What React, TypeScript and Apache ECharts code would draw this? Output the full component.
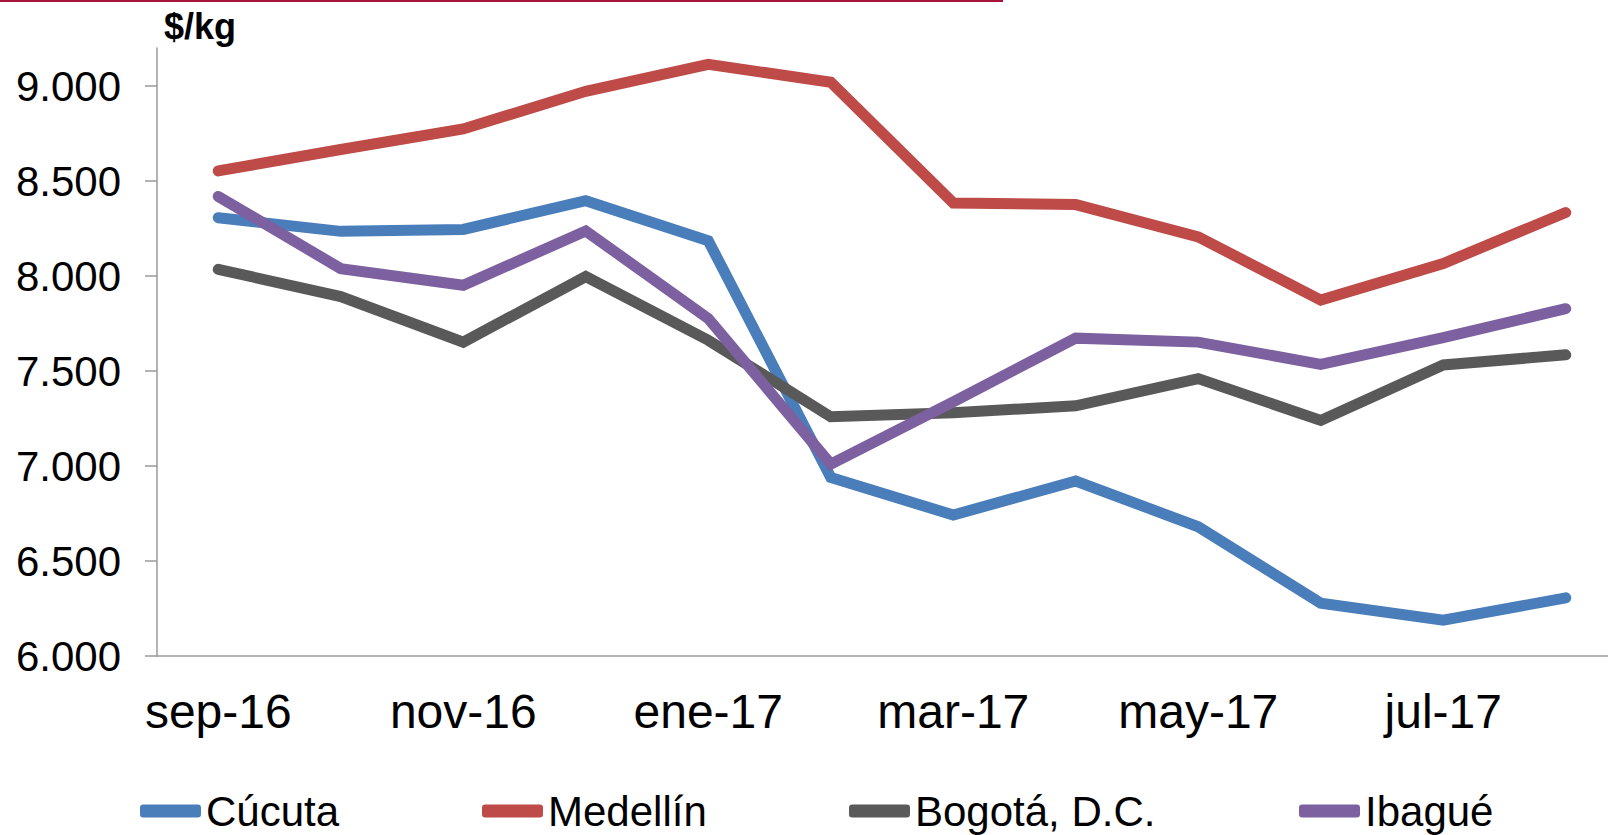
import React, { useEffect, useRef } from "react";
import * as echarts from "echarts";

const categories = ["sep-16", "oct-16", "nov-16", "dic-16", "ene-17", "feb-17", "mar-17", "abr-17", "may-17", "jun-17", "jul-17", "ago-17"];
const cucuta = [8307, 8235, 8245, 8396, 8186, 6940, 6742, 6921, 6680, 6278, 6188, 6306];
const medellin = [8553, 8666, 8774, 8972, 9114, 9020, 8384, 8376, 8206, 7873, 8066, 8334];
const bogota = [8035, 7892, 7652, 7997, 7662, 7259, 7280, 7317, 7460, 7240, 7532, 7585];
const ibague = [8419, 8039, 7951, 8237, 7776, 7010, 7338, 7673, 7652, 7535, 7676, 7828];
const yTicks = [6000, 6500, 7000, 7500, 8000, 8500, 9000];

const seriesNames = ["Cúcuta", "Medellín", "Bogotá, D.C.", "Ibagué"];
const seriesData = [cucuta, medellin, bogota, ibague];
const colors = ["#4a7ebb", "#be4b48", "#595959", "#7d60a0"];
const legendLefts = [140, 482, 849, 1299];

const FONT = "'Liberation Sans', Arial, sans-serif";

export default function App() {
  const ref = useRef<HTMLDivElement>(null);
  useEffect(() => {
    if (!ref.current) return;
    const chart = echarts.init(ref.current, null, { renderer: "svg" });
    const fmt = (v: number) => {
      if (v > 9000) return "";
      const s = String(Math.round(v));
      return s.replace(/\B(?=(\d{3})+(?!\d))/g, ".");
    };
    chart.setOption({
      animation: false,
      backgroundColor: "#ffffff",
      grid: { left: 157, top: 48, width: 1470, height: 608, containLabel: false },
      xAxis: {
        type: "category",
        data: categories,
        boundaryGap: true,
        axisLine: { show: true, lineStyle: { color: "#9a9a9a", width: 1.5 } },
        axisTick: { show: false },
        axisLabel: { interval: 1, fontSize: 48, fontFamily: FONT, color: "#000", margin: 31 },
        splitLine: { show: false },
      },
      yAxis: {
        type: "value",
        min: 6000,
        max: 9200,
        interval: 500,
        axisLine: { show: true, lineStyle: { color: "#9a9a9a", width: 1.5 } },
        axisTick: { show: true, length: 12, inside: false, lineStyle: { color: "#9a9a9a", width: 1.5 }, customValues: yTicks },
        axisLabel: { fontSize: 42, fontFamily: FONT, color: "#000", margin: 36, formatter: fmt, customValues: yTicks },
        splitLine: { show: false },
      },
      legend: seriesNames.map((n, i) => ({
        data: [n],
        left: legendLefts[i],
        top: 790,
        icon: "roundRect",
        itemWidth: 61,
        itemHeight: 13,
        padding: 0,
        textStyle: { fontSize: 42, fontFamily: FONT, color: "#000" },
      })),
      series: seriesNames.map((n, i) => ({
        name: n,
        type: "line",
        data: seriesData[i],
        symbol: "none",
        color: colors[i],
        lineStyle: { color: colors[i], width: 11, cap: "round", join: "miter" },
        itemStyle: { color: colors[i] },
      })),
      graphic: [
        { type: "line", shape: { x1: 0, y1: 1, x2: 1003, y2: 1 }, style: { stroke: "#a8143c", lineWidth: 2 } },
        {
          type: "text",
          x: 164,
          y: 26,
          style: { text: "$/kg", font: `bold 36px ${FONT}`, fill: "#000", verticalAlign: "middle", align: "left" },
        },
      ],
    });
    return () => chart.dispose();
  }, []);
  return <div ref={ref} style={{ position: "fixed", left: 0, top: 0, width: 1627, height: 835 }} />;
}
